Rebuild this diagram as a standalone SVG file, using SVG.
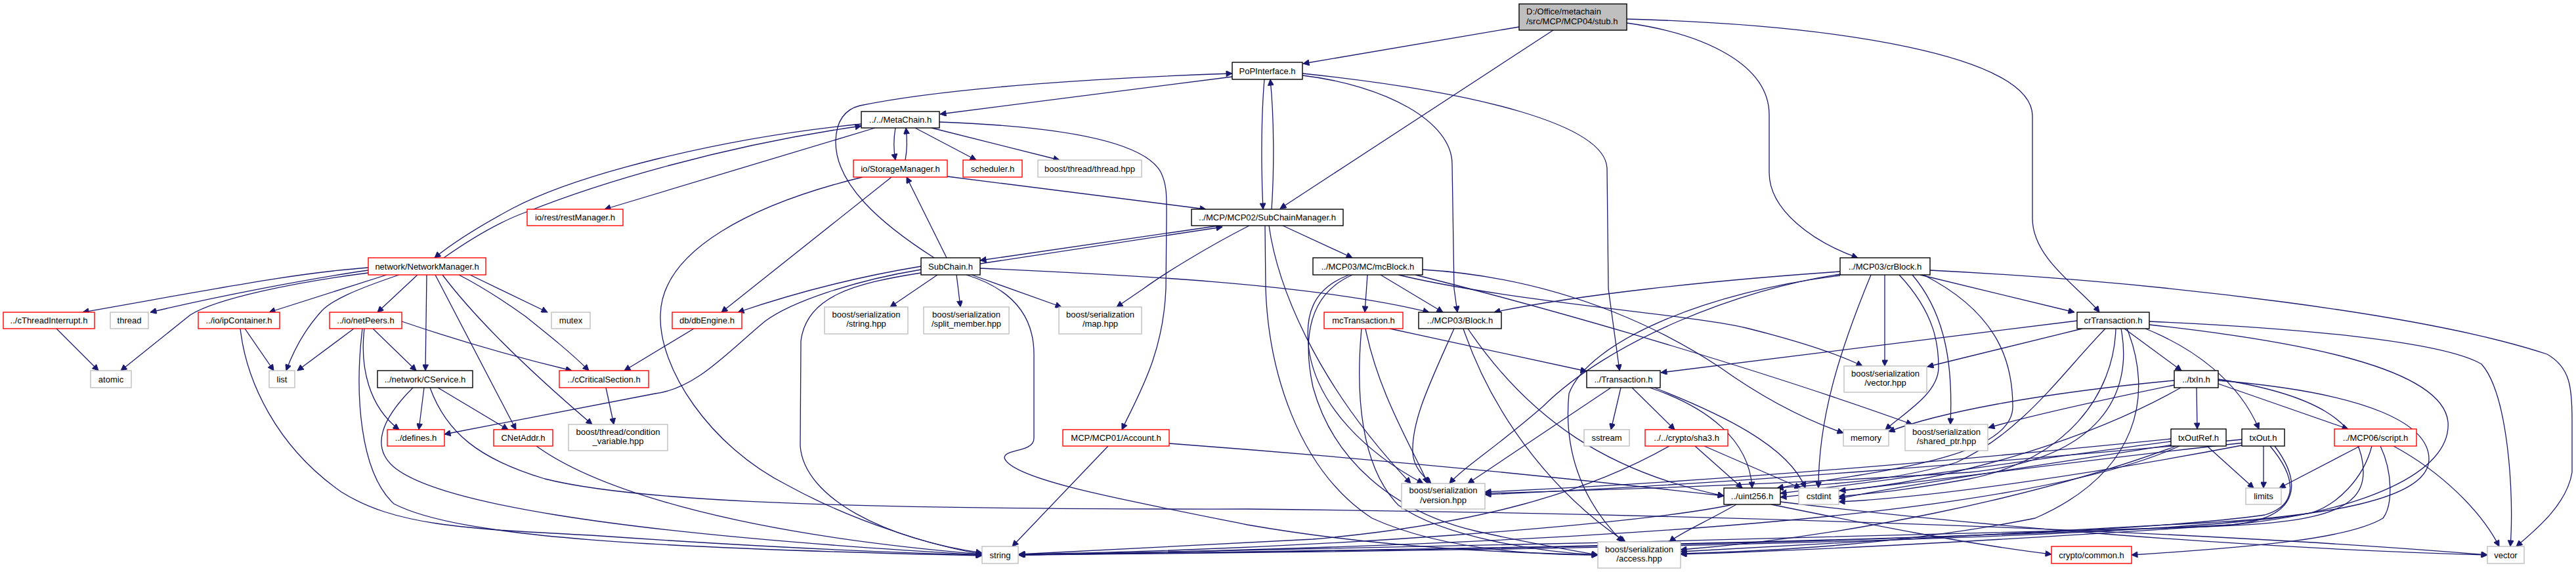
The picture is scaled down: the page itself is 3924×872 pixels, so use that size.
<svg xmlns="http://www.w3.org/2000/svg" width="3924" height="872" viewBox="0 0 3924 872">
<style>
rect{stroke-width:1.4}
.r{fill:#fff;stroke:#ff0000}
.g{fill:#fff;stroke:#bfbfbf}
.b{fill:#fff;stroke:#000}
.root{fill:#bfbfbf;stroke:#000}
text{font-family:"Liberation Sans",Arial,sans-serif;font-size:13px;fill:#000;text-anchor:middle}
text.l{text-anchor:start}
#edges path{fill:none;stroke:#191970;stroke-width:1.3;marker-end:url(#a)}
</style>
<defs>
<marker id="a" viewBox="0 0 10 10" refX="10" refY="5" markerWidth="11" markerHeight="9" markerUnits="userSpaceOnUse" orient="auto"><path d="M0,0 L10,5 L0,10 z" fill="#191970" stroke="#191970"/></marker>
</defs>
<rect width="3924" height="872" fill="#fff"/>
<g id="edges">
<path d="M2314,41 L1985,97"/>
<path d="M2366,46 L1950,318"/>
<path d="M2478,35 C2600,52 2695,100 2695,175 L2695,263 C2695,320 2760,368 2830,393"/>
<path d="M2478,29 C2800,38 3096,85 3096,177 L3096,333 C3096,395 3170,440 3198,476"/>
<path d="M1877,117 L1432,174"/>
<path d="M1926,121 C1921,180 1921,260 1924,319"/>
<path d="M1984,115 C2110,130 2212,185 2212,250 L2215,440 L2220,476"/>
<path d="M1984,112 C2250,140 2448,190 2448,258 L2450,440 L2467,565"/>
<path d="M1937,319 C1941,260 1941,180 1935,121"/>
<path d="M1312,189 C1100,210 880,265 780,318 C730,345 690,370 662,393"/>
<path d="M1333,195 L921,319"/>
<path d="M1364,195 C1361,212 1361,228 1364,244"/>
<path d="M1394,195 L1487,244"/>
<path d="M1419,195 L1614,244"/>
<path d="M1431,186 C1600,192 1740,212 1768,262 C1778,282 1777,300 1777,330 L1776,440 C1772,540 1735,600 1709,655"/>
<path d="M1379,244 C1382,228 1382,212 1380,195"/>
<path d="M1443,269 L1837,319"/>
<path d="M1358,270 L1099,476"/>
<path d="M1314,270 C1150,310 1008,380 1006,480 C1003,560 1080,680 1200,740 C1300,795 1420,832 1496,845"/>
<path d="M1857,344 L1493,397"/>
<path d="M1954,344 L2060,393"/>
<path d="M1903,344 C1840,376 1772,418 1742,440 L1701,468"/>
<path d="M1933,344 C1945,430 2000,580 2149,737"/>
<path d="M1927,344 L1928,440 C1932,560 1975,715 2090,790 C2200,840 2350,846 2434,846"/>
<path d="M1493,402 L1862,346"/>
<path d="M1423,393 C1340,340 1272,280 1273,215 C1274,180 1290,166 1310,161 C1450,132 1700,118 1877,112"/>
<path d="M1442,393 L1381,270"/>
<path d="M1403,406 C1330,418 1230,440 1124,476"/>
<path d="M1403,411 C1300,428 1205,460 1165,490 C1105,540 1060,592 998,600 L677,662"/>
<path d="M1403,416 C1300,432 1228,452 1220,520 L1219,680 C1225,760 1350,822 1496,843"/>
<path d="M1428,419 L1356,468"/>
<path d="M1457,419 L1463,468"/>
<path d="M1480,419 L1617,468"/>
<path d="M1472,419 C1540,440 1575,480 1575,540 L1575,668 C1575,690 1530,684 1530,698 C1540,730 1700,760 1900,800 C2100,835 2300,843 2434,846"/>
<path d="M1493,409 C1700,418 2000,432 2177,476"/>
<path d="M676,393 C720,362 765,336 805,322 C910,280 1100,222 1312,192"/>
<path d="M561,408 C450,416 330,440 126,476"/>
<path d="M561,412 C470,425 330,452 229,476"/>
<path d="M561,416 C450,430 330,455 290,480 L184,565"/>
<path d="M589,419 L410,476"/>
<path d="M608,419 C540,442 505,458 490,474 C462,505 445,540 436,565"/>
<path d="M636,419 L575,476"/>
<path d="M650,419 L648,565"/>
<path d="M663,419 L786,655"/>
<path d="M674,419 C720,480 800,560 902,647"/>
<path d="M699,419 C740,440 772,462 800,482 C835,510 870,538 897,565"/>
<path d="M716,419 L834,476"/>
<path d="M86,501 L150,565"/>
<path d="M373,501 L417,565"/>
<path d="M366,501 C375,580 420,680 520,750 C600,800 700,806 900,816 C1100,830 1300,841 1496,846"/>
<path d="M539,501 L453,565"/>
<path d="M568,501 L634,565"/>
<path d="M555,501 C548,560 562,620 608,655"/>
<path d="M552,501 C540,600 548,720 600,768 C700,820 1000,836 1496,847"/>
<path d="M612,490 C700,520 800,548 871,565"/>
<path d="M646,591 L638,655"/>
<path d="M667,591 L774,655"/>
<path d="M629,591 C580,640 565,682 600,712 C660,762 900,812 1496,846"/>
<path d="M655,591 C680,660 730,700 830,730 C950,760 1200,777 1900,776 C2500,782 3300,805 3789,846"/>
<path d="M817,680 C900,740 1100,812 1496,845"/>
<path d="M1057,501 L951,565"/>
<path d="M923,591 L935,647"/>
<path d="M1688,680 L1542,833"/>
<path d="M1781,676 C2100,700 2400,730 2626,756"/>
<path d="M2083,419 L2079,476"/>
<path d="M2103,419 L2198,476"/>
<path d="M2055,419 C2000,440 1985,480 1995,540 C2010,620 2080,690 2168,737"/>
<path d="M2060,419 C1990,450 1985,520 2000,590 C2030,700 2120,780 2250,810 C2330,828 2400,840 2434,846"/>
<path d="M2130,419 C2300,460 2580,480 2660,500 C2740,520 2800,540 2837,558"/>
<path d="M2156,419 C2400,480 2700,570 2913,647"/>
<path d="M2167,411 C2400,425 2560,520 2620,560 C2690,610 2750,640 2808,660"/>
<path d="M2117,501 L2417,566"/>
<path d="M2080,501 C2100,600 2150,680 2175,737"/>
<path d="M2074,501 C2065,600 2072,710 2130,770 C2200,820 2350,842 2434,846"/>
<path d="M2215,501 C2180,580 2150,640 2152,690 C2153,712 2168,726 2180,737"/>
<path d="M2229,501 C2280,650 2380,762 2476,826"/>
<path d="M2236,501 C2330,640 2450,720 2626,756"/>
<path d="M2803,414 C2600,428 2400,450 2276,476"/>
<path d="M2803,418 C2650,440 2450,520 2350,620 C2275,685 2230,712 2208,737"/>
<path d="M2803,420 C2600,445 2420,520 2390,600 C2382,680 2405,760 2472,826"/>
<path d="M2850,419 C2800,540 2770,640 2770,744"/>
<path d="M2871,419 L2871,558"/>
<path d="M2893,419 C2950,480 2953,530 2953,560 C2953,600 2900,630 2872,655"/>
<path d="M2913,419 C2965,480 2975,560 2971,647"/>
<path d="M2930,419 C3050,480 3066,560 3066,620 C3066,700 2850,720 2707,744"/>
<path d="M2925,419 L3160,476"/>
<path d="M2940,412 C3300,430 3700,480 3880,540 C3915,560 3918,590 3918,640 L3918,720 C3910,770 3860,810 3833,833"/>
<path d="M2454,591 L2236,737"/>
<path d="M2469,591 L2454,655"/>
<path d="M2486,591 L2551,655"/>
<path d="M2513,591 C2600,620 2665,670 2669,744"/>
<path d="M2520,591 C2620,630 2725,680 2750,744"/>
<path d="M2582,680 L2654,744"/>
<path d="M2596,680 L2743,744"/>
<path d="M2543,680 C2420,750 2250,800 2000,822 L1552,845"/>
<path d="M3164,489 L2530,568"/>
<path d="M3172,501 L2936,559"/>
<path d="M3236,501 L3323,565"/>
<path d="M3268,501 C3340,530 3410,580 3441,654"/>
<path d="M3274,490 C3500,500 3720,520 3780,555 C3820,600 3830,750 3824,833"/>
<path d="M3207,501 C3140,570 3080,660 2980,705 C2880,735 2780,738 2707,744"/>
<path d="M3223,501 C3220,600 3150,700 3000,730 C2900,748 2850,752 2801,757"/>
<path d="M3231,501 C3250,600 3200,700 3000,720 C2700,740 2400,748 2262,752"/>
<path d="M3240,501 C3280,600 3260,720 3100,790 C2900,830 2700,840 2560,844"/>
<path d="M3274,495 C3500,520 3720,560 3729,643 C3735,720 3600,780 3400,800 C2800,830 2000,840 1552,846"/>
<path d="M3346,591 L3347,654"/>
<path d="M3379,585 L3577,654"/>
<path d="M3312,580 C3100,600 2950,630 2877,658"/>
<path d="M3312,587 C3200,610 3100,632 3029,652"/>
<path d="M3322,591 C3200,660 3000,730 2802,748"/>
<path d="M3379,578 C3520,600 3600,640 3600,720 C3600,790 3500,800 3300,805 C2800,820 2000,838 1552,846"/>
<path d="M3379,580 C3620,600 3700,650 3700,700 C3700,760 3550,790 3300,800 C3000,815 2700,835 2560,841"/>
<path d="M3362,680 L3433,744"/>
<path d="M3307,669 C3000,700 2600,735 2262,750"/>
<path d="M3307,673 C3100,700 2900,730 2712,752"/>
<path d="M3310,678 C3100,710 2900,740 2801,760"/>
<path d="M3315,680 C3100,760 2800,820 2560,838"/>
<path d="M3320,680 C3100,780 2500,830 1552,846"/>
<path d="M3448,680 L3448,744"/>
<path d="M3415,670 C3100,700 2600,740 2262,754"/>
<path d="M3418,675 C3100,710 2900,740 2712,758"/>
<path d="M3420,678 C3200,720 2950,758 2801,765"/>
<path d="M3458,680 C3500,730 3500,770 3450,785 C3200,820 2500,835 1552,846"/>
<path d="M3465,680 C3510,740 3500,790 3400,800 C3100,820 2800,838 2560,845"/>
<path d="M3595,680 L3472,744"/>
<path d="M3646,680 C3720,720 3780,780 3807,833"/>
<path d="M3626,680 C3645,720 3645,770 3630,790 C3580,820 3450,833 3247,846"/>
<path d="M3613,680 C3600,730 3560,770 3520,782 C3300,820 2500,838 1552,846"/>
<path d="M2645,769 C2600,795 2560,812 2543,826"/>
<path d="M2698,769 C2850,800 3000,830 3125,845"/>
<path d="M2712,765 C3000,800 3400,835 3789,846"/>
<path d="M2640,769 C2500,800 2000,838 1552,845"/>
</g>
<g id="n_stub"><rect class="root" x="2314" y="6" width="164" height="40"/><text class="l" x="2325" y="21.5">D:/Office/metachain</text><text class="l" x="2325" y="36.5">/src/MCP/MCP04/stub.h</text></g>
<g id="n_pop"><rect class="b" x="1877" y="95" width="107" height="26"/><text x="1930.5" y="112.5">PoPInterface.h</text></g>
<g id="n_meta"><rect class="b" x="1312" y="170" width="119" height="25"/><text x="1371.5" y="187">../../MetaChain.h</text></g>
<g id="n_storage"><rect class="r" x="1300" y="244" width="143" height="26"/><text x="1371.5" y="261.5">io/StorageManager.h</text></g>
<g id="n_sched"><rect class="r" x="1467" y="244" width="90" height="26"/><text x="1512" y="261.5">scheduler.h</text></g>
<g id="n_thrhpp"><rect class="g" x="1581" y="244" width="158" height="26"/><text x="1660" y="261.5">boost/thread/thread.hpp</text></g>
<g id="n_rest"><rect class="r" x="803" y="319" width="146" height="25"/><text x="876" y="336">io/rest/restManager.h</text></g>
<g id="n_scm"><rect class="b" x="1815" y="319" width="231" height="25"/><text x="1930.5" y="336">../MCP/MCP02/SubChainManager.h</text></g>
<g id="n_netmgr"><rect class="r" x="561" y="393" width="179" height="26"/><text x="650.5" y="410.5">network/NetworkManager.h</text></g>
<g id="n_subchain"><rect class="b" x="1403" y="393" width="90" height="26"/><text x="1448" y="410.5">SubChain.h</text></g>
<g id="n_mcblock"><rect class="b" x="2000" y="393" width="167" height="26"/><text x="2083.5" y="410.5">../MCP03/MC/mcBlock.h</text></g>
<g id="n_crblock"><rect class="b" x="2803" y="393" width="137" height="26"/><text x="2871.5" y="410.5">../MCP03/crBlock.h</text></g>
<g id="n_cthr"><rect class="r" x="5" y="476" width="139" height="25"/><text x="74.5" y="493">../cThreadInterrupt.h</text></g>
<g id="n_thread"><rect class="g" x="168" y="476" width="58" height="25"/><text x="197" y="493">thread</text></g>
<g id="n_ipc"><rect class="r" x="302" y="476" width="124" height="25"/><text x="364" y="493">../io/ipContainer.h</text></g>
<g id="n_netpeers"><rect class="r" x="502" y="476" width="110" height="25"/><text x="557" y="493">../io/netPeers.h</text></g>
<g id="n_mutex"><rect class="g" x="840" y="476" width="59" height="25"/><text x="869.5" y="493">mutex</text></g>
<g id="n_db"><rect class="r" x="1024" y="476" width="106" height="25"/><text x="1077" y="493">db/dbEngine.h</text></g>
<g id="n_strhpp"><rect class="g" x="1256" y="468" width="127" height="41"/><text x="1319.5" y="484">boost/serialization</text><text x="1319.5" y="498">/string.hpp</text></g>
<g id="n_split"><rect class="g" x="1407" y="468" width="130" height="41"/><text x="1472" y="484">boost/serialization</text><text x="1472" y="498">/split_member.hpp</text></g>
<g id="n_map"><rect class="g" x="1613" y="468" width="126" height="41"/><text x="1676" y="484">boost/serialization</text><text x="1676" y="498">/map.hpp</text></g>
<g id="n_mctx"><rect class="r" x="2017" y="476" width="120" height="25"/><text x="2077" y="493">mcTransaction.h</text></g>
<g id="n_block"><rect class="b" x="2161" y="476" width="126" height="25"/><text x="2224" y="493">../MCP03/Block.h</text></g>
<g id="n_crtx"><rect class="b" x="3164" y="476" width="110" height="25"/><text x="3219" y="493">crTransaction.h</text></g>
<g id="n_atomic"><rect class="g" x="138" y="565" width="62" height="26"/><text x="169" y="582.5">atomic</text></g>
<g id="n_list"><rect class="g" x="410" y="565" width="39" height="26"/><text x="429.5" y="582.5">list</text></g>
<g id="n_cservice"><rect class="b" x="575" y="565" width="145" height="26"/><text x="647.5" y="582.5">../network/CService.h</text></g>
<g id="n_ccrit"><rect class="r" x="852" y="565" width="136" height="26"/><text x="920" y="582.5">../cCriticalSection.h</text></g>
<g id="n_tx"><rect class="b" x="2417" y="565" width="112" height="26"/><text x="2473" y="582.5">../Transaction.h</text></g>
<g id="n_vechpp"><rect class="g" x="2809" y="558" width="126" height="40"/><text x="2872" y="574">boost/serialization</text><text x="2872" y="588">/vector.hpp</text></g>
<g id="n_txin"><rect class="b" x="3312" y="565" width="67" height="26"/><text x="3345.5" y="582.5">../txIn.h</text></g>
<g id="n_defines"><rect class="r" x="590" y="655" width="87" height="25"/><text x="633.5" y="672">../defines.h</text></g>
<g id="n_cnet"><rect class="r" x="752" y="655" width="90" height="25"/><text x="797" y="672">CNetAddr.h</text></g>
<g id="n_cond"><rect class="g" x="866" y="647" width="151" height="40"/><text x="941.5" y="663">boost/thread/condition</text><text x="941.5" y="677">_variable.hpp</text></g>
<g id="n_account"><rect class="r" x="1619" y="655" width="162" height="25"/><text x="1700" y="672">MCP/MCP01/Account.h</text></g>
<g id="n_sstream"><rect class="g" x="2413" y="655" width="69" height="25"/><text x="2447.5" y="672">sstream</text></g>
<g id="n_sha3"><rect class="r" x="2506" y="655" width="126" height="25"/><text x="2569" y="672">../../crypto/sha3.h</text></g>
<g id="n_memory"><rect class="g" x="2808" y="655" width="69" height="25"/><text x="2842.5" y="672">memory</text></g>
<g id="n_shptr"><rect class="g" x="2902" y="647" width="126" height="40"/><text x="2965" y="663">boost/serialization</text><text x="2965" y="677">/shared_ptr.hpp</text></g>
<g id="n_txoutref"><rect class="b" x="3307" y="654" width="84" height="26"/><text x="3349" y="671.5">txOutRef.h</text></g>
<g id="n_txout"><rect class="b" x="3415" y="654" width="65" height="26"/><text x="3447.5" y="671.5">txOut.h</text></g>
<g id="n_script"><rect class="r" x="3556" y="654" width="125" height="26"/><text x="3618.5" y="671.5">../MCP06/script.h</text></g>
<g id="n_version"><rect class="g" x="2135" y="737" width="127" height="39"/><text x="2198.5" y="752">boost/serialization</text><text x="2198.5" y="767">/version.hpp</text></g>
<g id="n_uint"><rect class="b" x="2626" y="744" width="86" height="25"/><text x="2669" y="761">../uint256.h</text></g>
<g id="n_cstdint"><rect class="g" x="2740" y="744" width="61" height="25"/><text x="2770.5" y="761">cstdint</text></g>
<g id="n_limits"><rect class="g" x="3421" y="744" width="54" height="25"/><text x="3448" y="761">limits</text></g>
<g id="n_string"><rect class="g" x="1496" y="833" width="55" height="26"/><text x="1523.5" y="850.5">string</text></g>
<g id="n_access"><rect class="g" x="2434" y="826" width="126" height="40"/><text x="2497" y="842">boost/serialization</text><text x="2497" y="856">/access.hpp</text></g>
<g id="n_common"><rect class="r" x="3125" y="833" width="122" height="26"/><text x="3186" y="850.5">crypto/common.h</text></g>
<g id="n_vector"><rect class="g" x="3789" y="833" width="56" height="26"/><text x="3817" y="850.5">vector</text></g>
</svg>
